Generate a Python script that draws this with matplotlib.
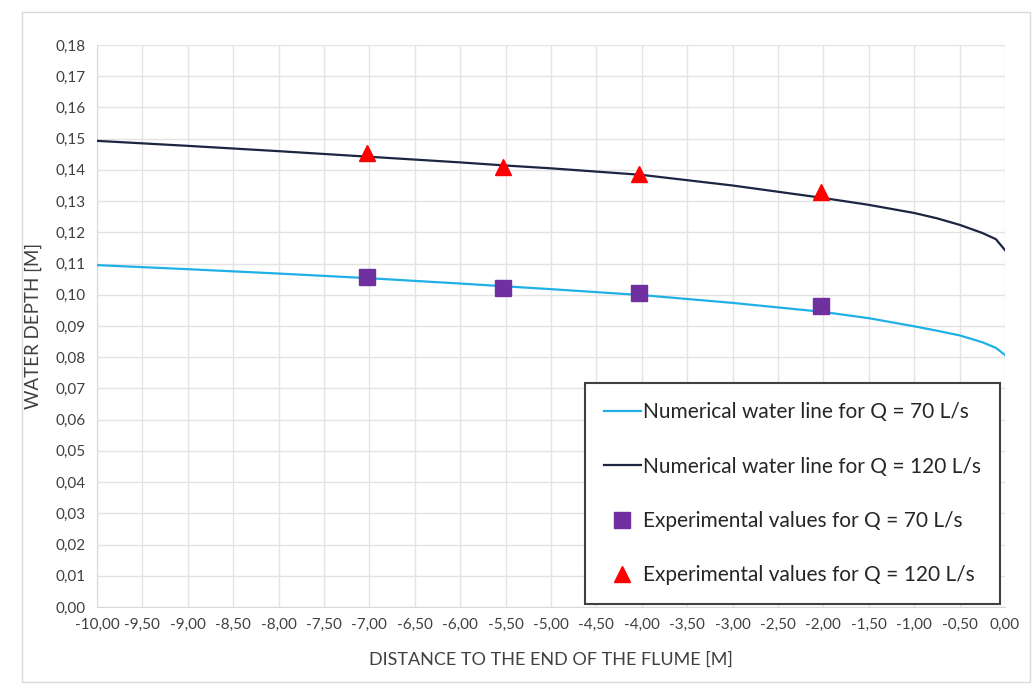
import matplotlib.pyplot as plt
from matplotlib.patches import Rectangle
from matplotlib.ticker import FuncFormatter, MultipleLocator

plt.rcParams['font.family'] = ['Lato', 'DejaVu Sans']

# numerical water lines
x_num = [-10.0, -9.0, -8.0, -7.0, -6.0, -5.5, -5.0, -4.0, -3.0, -2.0, -1.5, -1.0,
         -0.75, -0.5, -0.25, -0.1, 0.0]
h_70 = [0.1095, 0.1082, 0.1068, 0.1053, 0.1036, 0.1027, 0.1018, 0.0999, 0.0974, 0.0945,
        0.0925, 0.0899, 0.0885, 0.0870, 0.0848, 0.0830, 0.0807]
h_120 = [0.1493, 0.1477, 0.1460, 0.1442, 0.1424, 0.1414, 0.1405, 0.1384, 0.1350, 0.1310,
         0.1288, 0.1262, 0.1245, 0.1224, 0.1198, 0.1178, 0.1143]

# experimental values
x_exp = [-7.03, -5.53, -4.03, -2.03]
exp_70 = [0.1057, 0.1022, 0.1006, 0.0964]
exp_120 = [0.1454, 0.1409, 0.1388, 0.1329]

txt = '#404040'
fig = plt.figure(figsize=(10.36, 6.86), dpi=100)
fig.patches.append(Rectangle((22 / 1036, 4 / 686), 1008 / 1036, 670 / 686,
                             transform=fig.transFigure, fill=False,
                             edgecolor='#d9d9d9', linewidth=1))
ax = fig.add_axes([97 / 1036, 1 - 607 / 686, 908 / 1036, 562 / 686])

ax.plot(x_num, h_70, color='#1fb0e8', lw=1.6, label='Numerical water line for Q = 70 L/s', zorder=3)
ax.plot(x_num, h_120, color='#1c2541', lw=1.6, label='Numerical water line for Q = 120 L/s', zorder=3)
ax.plot(x_exp, exp_70, ls='none', marker='s', ms=11, color='#7030a0',
        label='Experimental values for Q = 70 L/s', zorder=4)
ax.plot(x_exp, exp_120, ls='none', marker='^', ms=11, color='#ff0000',
        label='Experimental values for Q = 120 L/s', zorder=4)

ax.set_xlim(-10, 0)
ax.set_ylim(0, 0.18)
ax.xaxis.set_major_locator(MultipleLocator(0.5))
ax.yaxis.set_major_locator(MultipleLocator(0.01))
ax.xaxis.set_major_formatter(FuncFormatter(lambda v, p: f'{v:.2f}'.replace('.', ',').replace('-0,00', '0,00')))
ax.yaxis.set_major_formatter(FuncFormatter(lambda v, p: f'{v:.2f}'.replace('.', ',')))
ax.tick_params(length=0, labelsize=11, labelcolor=txt, pad=8)
ax.grid(True, color='#e3e3e3', lw=1)
ax.set_axisbelow(True)
for s in ['top', 'right']:
    ax.spines[s].set_visible(False)
for s in ['left', 'bottom']:
    ax.spines[s].set_color('#d9d9d9')

ax.set_xlabel('DISTANCE TO THE END OF THE FLUME [M]', fontsize=13, color=txt, labelpad=14)
ax.set_ylabel('WATER DEPTH [M]', fontsize=13.5, color=txt, labelpad=10)

leg = ax.legend(loc='lower right', bbox_to_anchor=(1000 / 1036, 82 / 686),
                bbox_transform=fig.transFigure, fontsize=15, frameon=True,
                fancybox=False, edgecolor='#404040', framealpha=1,
                labelspacing=1.65, handlelength=1.8, handletextpad=0.1,
                borderpad=0.9, borderaxespad=0)
leg.get_frame().set_linewidth(1.5)
for t in leg.get_texts():
    t.set_color('#262626')

fig.savefig('out.png', dpi=100)
